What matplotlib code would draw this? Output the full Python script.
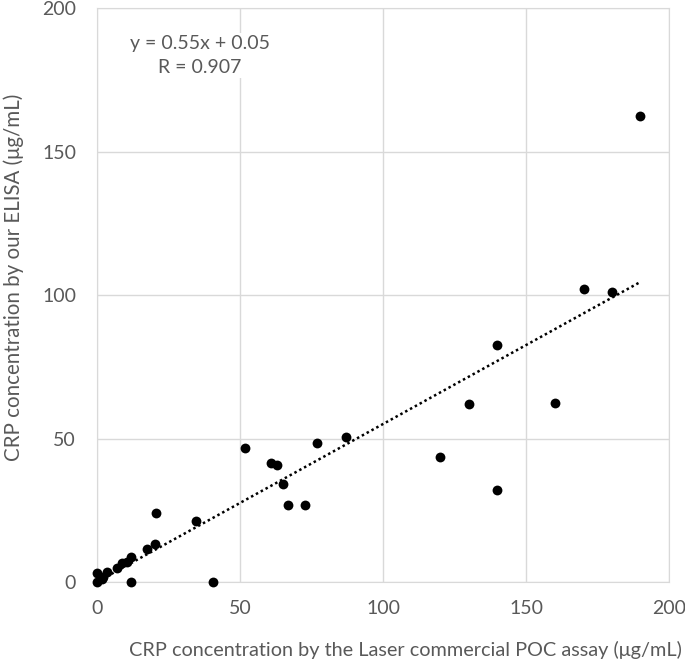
import matplotlib.pyplot as plt
import numpy as np

# CRP values (ug/mL)
poc = [190, 170.3, 180, 139.9, 130, 160, 120, 140, 51.7, 76.9, 87, 60.8, 63,
       65, 66.8, 72.7, 34.6, 20.6, 20.3, 17.5, 11.9, 40.5, 12, 10.4, 8.6, 6.9,
       3.4, 0, 0, 1.6, 2.2]
elisa = [162.3, 102, 101, 82.7, 62.1, 62.5, 43.6, 32.1, 46.8, 48.5, 50.6, 41.5, 40.8,
         34.2, 26.9, 26.9, 21.3, 24.1, 13.3, 11.5, 8.6, 0, 0, 7.1, 6.5, 5.0,
         3.4, 3.3, 0.1, 0.9, 1.8]
slope, intercept = 0.55, 0.05

grey = '#595959'
plt.rcParams['font.family'] = ['Lato', 'DejaVu Sans']

fig = plt.figure(figsize=(6.85, 6.69), dpi=100)
ax = fig.add_axes([0.1416, 0.130, 0.835, 0.858])

ax.scatter(poc, elisa, s=50, color='black', zorder=3, linewidths=0, clip_on=False)
xs = np.array([0, 190])
ax.plot(xs, slope * xs + intercept, color='black', linestyle=(0, (1, 1.2)), lw=1.8, zorder=2)

ax.set_xlim(0, 200)
ax.set_ylim(0, 200)
ax.set_xticks([0, 50, 100, 150, 200])
ax.set_yticks([0, 50, 100, 150, 200])
ax.grid(True, color='#d9d9d9', lw=1)
ax.set_axisbelow(True)
for s in ax.spines.values():
    s.set_color('#d9d9d9')
ax.tick_params(length=0, labelsize=14, labelcolor=grey)
ax.tick_params(axis='x', pad=13)
ax.tick_params(axis='y', pad=15)

ax.set_xlabel('CRP concentration by the Laser commercial POC assay (\u03bcg/mL)',
              fontsize=14.3, color=grey)
ax.set_ylabel('CRP concentration by our ELISA (\u03bcg/mL)',
              fontsize=14.8, color=grey)
ax.xaxis.set_label_coords(0.539, -0.103)
ax.yaxis.set_label_coords(-0.127, 0.53)

ax.text(36, 183.5, 'y = 0.55x + 0.05\nR = 0.907', ha='center', va='center',
        multialignment='center', fontsize=14, color=grey, linespacing=1.55,
        bbox=dict(facecolor='white', edgecolor='none', pad=1))

fig.savefig('out.png', dpi=100)
